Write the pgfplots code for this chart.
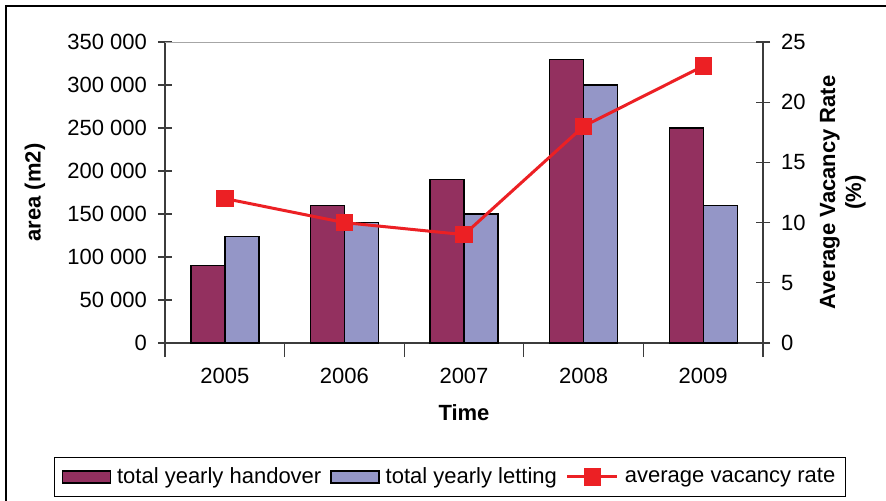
\documentclass[border=0pt]{standalone}
\usepackage{pgfplots}
\pgfplotsset{compat=1.18}
\usepackage{fontspec}
\setmainfont{Liberation Sans}

\definecolor{handover}{RGB}{147,48,95}
\definecolor{letting}{RGB}{148,150,199}
\definecolor{vacancy}{RGB}{236,32,36}
\definecolor{axisgray}{RGB}{60,60,60}

\pgfplotstableread{
idx handover letting
0   90000    124000
1   160000   140000
2   190000   150000
3   330000   300000
4   250000   160000
}\areadata

\pgfplotstableread{
idx rate
0   12
1   10
2   9
3   18
4   23
}\ratedata

\pgfplotsset{
  common/.style={
    scale only axis, width=299pt, height=150.5pt,
    xmin=-0.5, xmax=4.5,
    /pgf/number format/assume math mode=true,
    tick align=center,
    major tick length=7pt, minor tick length=7pt,
    tick style={axisgray, line width=0.65pt},
    axis line style={axisgray, line width=0.65pt},
  },
  barlegend/.style={legend image code/.code={\draw[##1] (0pt,-3pt) rectangle (24pt,3pt);}},
  linelegend/.style={legend image code/.code={\draw[sharp plot,mark repeat=2,mark phase=2,##1] plot coordinates {(0pt,0pt) (12.5pt,0pt) (25pt,0pt)};}},
  vacstyle/.style={vacancy, line width=1.5pt, mark=square*, mark size=3.6pt,
    mark options={solid, draw=vacancy, fill=vacancy}},
}

\begin{document}
\begin{tikzpicture}[font=\fontsize{11}{13}\selectfont]
% canvas and outer frame (1px = 0.5pt)
\useasboundingbox (-82.5pt,-78.5pt) rectangle (360.5pt,171.5pt);
\draw[line width=0.8pt,black] (-79.5pt,-80pt) -- (-79.5pt,168.5pt) -- (362pt,168.5pt);

\begin{axis}[
  common,
  ymin=0, ymax=350000,
  axis x line*=bottom, axis y line*=left,
  ybar=0pt, bar width=17pt,
  xtick={0,...,4},
  xticklabels={2005,2006,2007,2008,2009},
  major x tick style={draw=none},
  minor xtick={-0.5,0.5,...,4.5},
  xticklabel style={yshift=-2pt},
  ytick={0,50000,...,350000},
  yticklabels={0,50 000,100 000,150 000,200 000,250 000,300 000,350 000},
  scaled y ticks=false,
  yticklabel style={xshift=-2pt},
  xlabel={\bfseries Time},
  xlabel style={at={(axis description cs:0.5,-0.2326)}, anchor=center},
  ylabel={\bfseries area (m2)},
  ylabel style={at={(axis description cs:-0.2174,0.5)}, anchor=center},
  legend columns=3,
  legend style={at={(axis description cs:0.4766,-0.445)}, anchor=center,
    draw=black, line width=0.6pt, inner xsep=3.5pt, inner ysep=3pt,
    /tikz/every odd column/.append style={column sep=1.5pt},
    /tikz/every even column/.append style={column sep=3pt},
    nodes={inner xsep=1.5pt, inner ysep=2pt}},
  legend cell align=left,
]
\addplot[fill=handover, draw=black, line width=0.7pt, barlegend]
  table[x=idx, y=handover] {\areadata};
\addlegendentry{total yearly handover}
\addplot[fill=letting, draw=black, line width=0.7pt, barlegend]
  table[x=idx, y=letting] {\areadata};
\addlegendentry{total yearly letting}
\addlegendimage{vacstyle, linelegend}
\addlegendentry{average vacancy rate}
% gray top border of the plot area
\draw[gray!70, line width=0.8pt] (rel axis cs:0,1) -- (rel axis cs:1,1);
\end{axis}

\begin{axis}[
  common,
  ymin=0, ymax=25,
  axis x line=none, axis y line*=right,
  ytick={0,5,...,25},
  yticklabel style={xshift=2pt},
  ylabel={\bfseries\begin{tabular}{c}Average Vacancy Rate\\(\%)\end{tabular}},
  ylabel style={at={(axis description cs:1.1338,0.5)}, anchor=center},
]
\addplot[vacstyle] table[x=idx, y=rate] {\ratedata};
\end{axis}
\end{tikzpicture}
\end{document}
